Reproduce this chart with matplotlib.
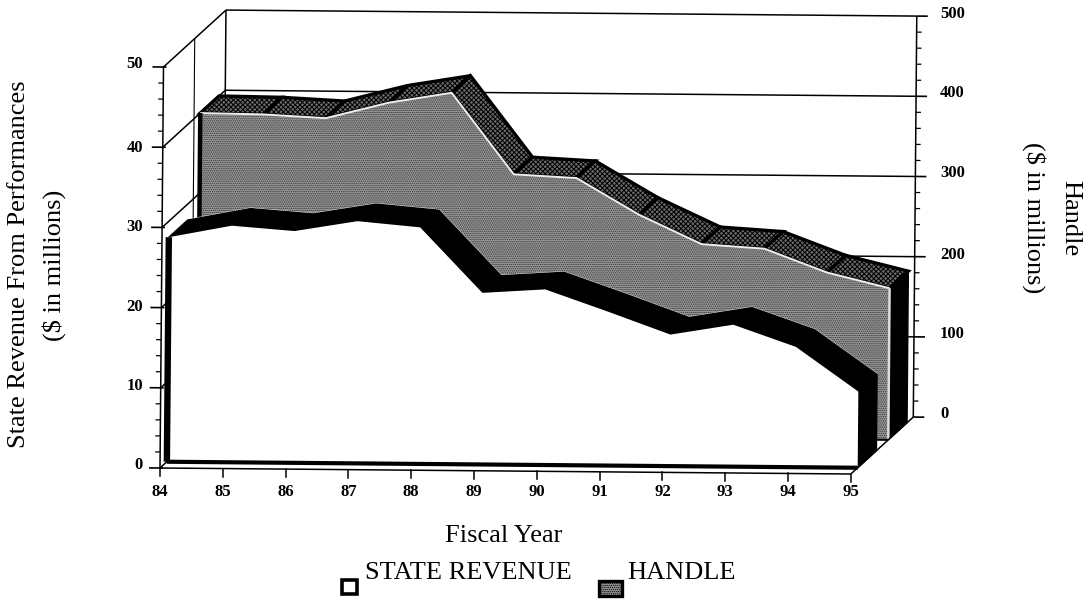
import matplotlib
matplotlib.use('Agg')
import matplotlib.pyplot as plt
import numpy as np

years = np.arange(84, 96)
year_labels = [str(y) for y in years]
revenue = np.array([28.0, 29.5, 28.9, 30.2, 29.5, 21.4, 21.9, 19.2, 16.4, 17.7, 15.0, 9.5])
handle = np.array([400, 399, 395, 415, 428, 327, 323, 278, 242, 237, 208, 189])
left_ticks = [0, 10, 20, 30, 40, 50]
right_ticks = [0, 100, 200, 300, 400, 500]

W, H = 1083, 602
PX_X = 62.8   # px per year
PX_Y = 8.02   # px per revenue unit
TILT = 0.0087  # the scan is slightly rotated
DX, DY = 0.995, 7.17  # full depth of the box, in data units

plt.rcParams['font.family'] = ['Liberation Serif', 'DejaVu Serif']
plt.rcParams['hatch.linewidth'] = 0.7

fig = plt.figure(figsize=(W / 100, H / 100), dpi=100)
ax = fig.add_axes([0, 0, 1, 1])
x_left = 84 - 160 / PX_X
ax.set_xlim(x_left, x_left + W / PX_X)
ax.set_ylim((468 - H) / PX_Y, 468 / PX_Y)
ax.axis('off')


def proj(x, v, d=0.0):
    x = np.asarray(x, dtype=float)
    v = np.asarray(v, dtype=float)
    d = np.asarray(d, dtype=float)
    xx = x + d * DX + v * PX_Y * TILT / PX_X
    yy = v + d * DY - (xx - 84) * PX_X * TILT / PX_Y
    return xx, yy


def line(x, v, d, **kw):
    xx, yy = proj(x, v, d)
    kw.setdefault('color', 'black')
    kw.setdefault('lw', 1.1)
    ax.plot(xx, yy, solid_capstyle='butt', **kw)


def poly(x, v, d, **kw):
    xx, yy = proj(x, v, d)
    ax.fill(xx, yy, **kw)


# walls
for t in left_ticks:
    if t > 0:
        line([84, 95], [t, t], [1, 1], zorder=1)
    line([84, 84], [t, t], [0, 1], zorder=1)
line([84, 84], [0, 50], [0, 0], zorder=1)
line([84, 84], [0, 50], [1, 1], zorder=1)
line([84, 84], [0, 50], [0.5, 0.5], lw=0.8, zorder=1)
line([95, 95], [0, 50], [1, 1], zorder=1)
line([84, 95], [0, 0], [0, 0], zorder=6)
line([95, 95], [0, 0], [0, 1], zorder=6)

# left axis ticks
for t in np.arange(0, 51, 2):
    major = t % 10 == 0
    tx = -11 / PX_X if major else -5 / PX_X
    hi = 3 / PX_X if major else 0
    line([84 + tx, 84 + hi], [t, t], 0.0, lw=1.2 if major else 0.9, zorder=6)
# right axis ticks
for t in np.arange(0, 51, 2):
    major = t % 10 == 0
    tx = 11 / PX_X if major else 5 / PX_X
    line([95, 95 + tx], [t, t], 1.0, lw=1.2 if major else 0.9, zorder=6)
# bottom ticks
for y in years:
    xx, yy = proj(y, 0, 0)
    ax.plot([xx, xx], [yy, yy - 8 / PX_Y], color='black', lw=1.1, zorder=6)

# handle series, sits at depth 0.6 - 0.9
h = handle / 10.0
D1, D2 = 0.6, 0.9
hxf = np.concatenate([years, years[::-1]])
hvf = np.concatenate([h, np.zeros(len(h))])
poly([95, 95, 95, 95], [0, h[-1], h[-1], 0], [D1, D1, D2, D2], color='black', zorder=2)
for i in range(len(years) - 1):
    poly([years[i], years[i + 1], years[i + 1], years[i]],
         [h[i], h[i + 1], h[i + 1], h[i]], [D1, D1, D2, D2],
         facecolor='#6a6a6a', edgecolor='black', lw=2.4, hatch='xxxxxxx', zorder=2)
poly(hxf, hvf, D1, facecolor='#9c9c9c', edgecolor='#333333', hatch='........', lw=0, zorder=3)
line(years, h, D1, color='#eeeeee', lw=1.4, zorder=3.2)
line([84, 84], [0, h[0]], [D1, D1], lw=3.2, zorder=3.3)
line([95, 95], [0, h[-1]], [D1, D1], color='#dddddd', lw=1.8, zorder=3.2)
line([84, 95], [0, 0], D1, color='black', lw=1.5, zorder=3.2)

# state revenue series, depth 0.11 - 0.41
R1, R2 = 0.11, 0.41
rxf = np.concatenate([years, years[::-1]])
rvf = np.concatenate([revenue, np.zeros(len(revenue))])
xt, yt = proj(years, revenue, R1)
xt2, yt2 = proj(years, revenue, R2)
ax.fill(np.r_[xt, xt2[::-1]], np.r_[yt, yt2[::-1]], color='black', zorder=4)
line(years, revenue, R2, color='#eeeeee', lw=1.6, zorder=3.4)
poly([95, 95, 95, 95], [0, revenue[-1], revenue[-1], 0], [R1, R1, R2, R2], color='black', zorder=4)
poly(rxf, rvf, R1, facecolor='white', edgecolor='none', zorder=5)
line([84, 84], [0, revenue[0]], R1, lw=4.6, zorder=5.2)
line([84, 95], [0, 0], R1, lw=3.0, zorder=5.2)


def txt(px, py, s, **kw):
    kw.setdefault('ha', 'center')
    kw.setdefault('va', 'center')
    fig.text(px / W, 1 - py / H, s, **kw)


# tick labels
for t, py in zip(left_ticks, [465, 386, 307, 227, 148, 64]):
    txt(143, py, str(t), fontsize=12, fontweight='bold', ha='right')
for t, py in zip(right_ticks, [414, 334, 255, 173, 93, 14]):
    txt(940, py, str(t), fontsize=12, fontweight='bold', ha='left')
for y, lab in zip(years, year_labels):
    xx, _ = proj(y, 0, 0)
    px = (xx - x_left) * PX_X
    txt(px, 492, lab, fontsize=12, fontweight='bold')

# axis titles
txt(19, 264, 'State Revenue From Performances', fontsize=19, rotation=90)
txt(54, 265, '($ in millions)', fontsize=19, rotation=90)
txt(1070, 218, 'Handle', fontsize=19, rotation=-90)
txt(1034, 218, '($ in millions)', fontsize=19, rotation=-90)
txt(504, 536, 'Fiscal Year', fontsize=19)

# legend
txt(365, 573, 'STATE REVENUE', fontsize=19, ha='left')
txt(627, 573, 'HANDLE', fontsize=19, ha='left')
leg = fig.add_axes([0, 0, 1, 1], facecolor='none')
leg.set_xlim(0, W)
leg.set_ylim(H, 0)
leg.axis('off')
leg.fill([342, 357, 357, 342], [580, 580, 594, 594], facecolor='white', edgecolor='black', lw=2.6)
leg.fill([599, 622, 622, 599], [581, 581, 596, 596], facecolor='#9c9c9c', edgecolor='black', lw=2.4, hatch='........')

fig.savefig('out.png', dpi=100)
